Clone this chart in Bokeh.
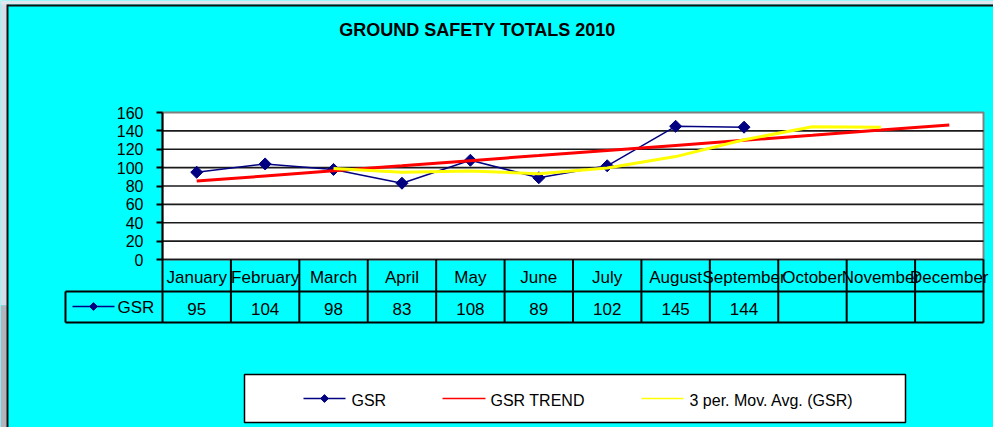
import math
import numpy as np
from bokeh.plotting import figure
from bokeh.models import Range1d, FixedTicker
from bokeh.core.properties import value
from bokeh.embed import file_html
from bokeh.resources import INLINE

# ---------------- data ----------------
months = ["January", "February", "March", "April", "May", "June", "July",
          "August", "September", "October", "November", "December"]
gsr = [95, 104, 98, 83, 108, 89, 102, 145, 144, None, None, None]
gsr_trend = [85.4, 90.9, 96.5, 102.0, 107.6, 113.1, 118.7, 124.2, 129.8, 135.3, 140.9, 146.4]
gsr_mov_avg = [None, None, 99.0, 95.0, 96.3, 93.3, 99.7, 112.0, 130.3, 144.5, 144.0, None]
y_ticks = [0, 20, 40, 60, 80, 100, 120, 140, 160]
title_text = "GROUND SAFETY TOTALS 2010"
series_name = "GSR"
legend_labels = ["GSR", "GSR TREND", "3 per. Mov. Avg. (GSR)"]

# ---------------- layout (page pixels) ----------------
W, H = 993, 427
ORIGIN = 0
PX_LEFT, PX_RIGHT, PX_ZERO, PX_TOP = 162, 983, 259, 112
SX = (PX_RIGHT - PX_LEFT) / len(months)
SY = (PX_ZERO - PX_TOP) / (y_ticks[-1] - y_ticks[0])


def X(px):
    return (px - PX_LEFT) / SX


def Y(py):
    return (PX_ZERO - py) / SY


CYAN = "#00FFFF"
NAVY = "#000080"
RED = "#FF0000"
YELLOW = "#FFFF00"
FONT = value("Liberation Sans")

p = figure(width=W, height=H, output_backend="svg", toolbar_location=None,
           x_range=Range1d(X(ORIGIN), X(ORIGIN + W)),
           y_range=Range1d(Y(ORIGIN + H), Y(ORIGIN)),
           x_axis_location=None, min_border=0,
           background_fill_color=CYAN, border_fill_color=CYAN,
           outline_line_color=None)
p.grid.visible = False

# window surroundings (left/top strips and chart-area border)
p.quad(left=X(0), right=X(7), top=Y(0), bottom=Y(305), fill_color="#d9dde9", line_color=None)
p.quad(left=X(0), right=X(7), top=Y(305), bottom=Y(427), fill_color="#b4b4be", line_color=None)
p.quad(left=X(0), right=X(993), top=Y(0), bottom=Y(4), fill_color="#e2e6ef", line_color=None)
p.segment(x0=[X(7), X(7)], x1=[X(7), X(993)], y0=[Y(4), Y(5)], y1=[Y(427), Y(5)],
          line_color="#111111", line_width=2)

# y axis through the plot-area left edge
ax = p.yaxis[0]
ax.fixed_location = 0
ax.bounds = (y_ticks[0], y_ticks[-1])
ax.ticker = FixedTicker(ticks=y_ticks)
ax.minor_tick_line_color = None
ax.major_tick_in = 0
ax.major_tick_out = 6
ax.major_tick_line_width = 2
ax.major_tick_line_color = "black"
ax.axis_line_width = 2
ax.axis_line_color = "black"
ax.major_label_standoff = 13
ax.major_label_text_font = "Liberation Sans"
ax.major_label_text_font_size = "16px"
ax.major_label_text_color = "black"

n = len(months)
xs = [i + 0.5 for i in range(n)]

# plot area
p.quad(left=0, right=n, bottom=y_ticks[0], top=y_ticks[-1],
       fill_color="white", line_color="#808080", line_width=2)
# gridlines
p.segment(x0=[0] * (len(y_ticks) - 1), x1=[n] * (len(y_ticks) - 1),
          y0=y_ticks[:-1], y1=y_ticks[:-1], line_color="#1a1a1a", line_width=1.6)

# series
gsr_arr = np.array(gsr, dtype=float)
p.line(xs, gsr_arr, line_color=NAVY, line_width=1.5)
p.scatter(xs, gsr_arr, marker="square", angle=math.pi / 4, size=8.5,
          fill_color=NAVY, line_color=NAVY)
p.line(xs, gsr_trend, line_color=RED, line_width=3)
p.line(xs, np.array(gsr_mov_avg, dtype=float), line_color=YELLOW, line_width=3)

# title
p.text(x=[X(477)], y=[Y(29)], text=[title_text], text_font=FONT,
       text_font_size="18px", text_font_style="bold", text_color="black",
       text_align="center", text_baseline="middle")

# data table
ROW_TOP, ROW_MID, ROW_BOT, HEAD_LEFT = 259, 291, 322, 65
p.segment(x0=[X(HEAD_LEFT), X(HEAD_LEFT)], x1=[n, n],
          y0=[Y(ROW_MID), Y(ROW_BOT)], y1=[Y(ROW_MID), Y(ROW_BOT)],
          line_color="black", line_width=2)
p.segment(x0=list(range(n + 1)), x1=list(range(n + 1)),
          y0=[Y(ROW_TOP)] * (n + 1), y1=[Y(ROW_BOT)] * (n + 1),
          line_color="black", line_width=2)
p.segment(x0=[X(HEAD_LEFT)], x1=[X(HEAD_LEFT)], y0=[Y(ROW_MID)], y1=[Y(ROW_BOT)],
          line_color="black", line_width=2)
p.text(x=xs, y=[Y(277)] * n, text=months, text_font=FONT, text_font_size="17px",
       text_color="black", text_align="center", text_baseline="middle")
vx = [xs[i] for i, v in enumerate(gsr) if v is not None]
vt = [str(v) for v in gsr if v is not None]
p.text(x=vx, y=[Y(308)] * len(vx), text=vt, text_font=FONT, text_font_size="17px",
       text_color="black", text_align="center", text_baseline="middle")
# row header
p.segment(x0=[X(72)], x1=[X(114)], y0=[Y(306)], y1=[Y(306)], line_color=NAVY, line_width=1.5)
p.scatter([X(93)], [Y(306)], marker="square", angle=math.pi / 4, size=5.5,
          fill_color=NAVY, line_color=NAVY)
p.text(x=[X(117)], y=[Y(307)], text=[series_name], text_font=FONT, text_font_size="17px",
       text_color="black", text_align="left", text_baseline="middle")

# legend
p.quad(left=X(244), right=X(905), bottom=Y(422), top=Y(374),
       fill_color="white", line_color="black", line_width=1.5)
key_px = [(303, 345), (442, 485), (641, 683)]
label_px = [351, 490, 689]
colors = [NAVY, RED, YELLOW]
LY = 398
for (a, b), lx, c, lab in zip(key_px, label_px, colors, legend_labels):
    p.segment(x0=[X(a)], x1=[X(b)], y0=[Y(LY)], y1=[Y(LY)], line_color=c, line_width=1.5)
    p.text(x=[X(lx)], y=[Y(LY + 2)], text=[lab], text_font=FONT, text_font_size="16px",
           text_color="black", text_align="left", text_baseline="middle")
p.scatter([X(324)], [Y(LY)], marker="square", angle=math.pi / 4, size=5.5,
          fill_color=NAVY, line_color=NAVY)

open("out.html", "w").write(file_html(p, INLINE))
